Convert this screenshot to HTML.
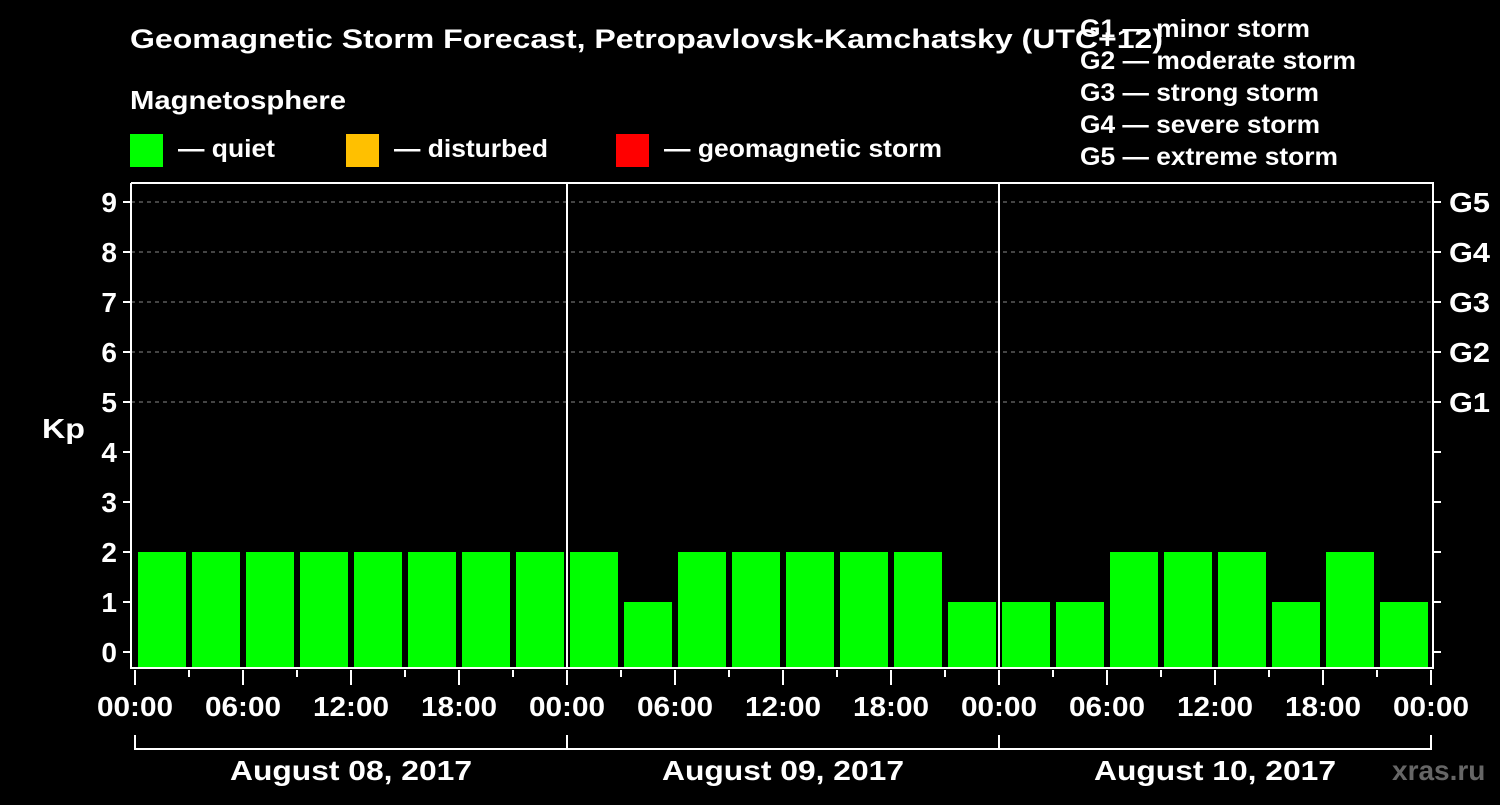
<!DOCTYPE html>
<html><head><meta charset="utf-8"><style>
html,body{margin:0;padding:0;background:#000;}
svg text{font-family:"Liberation Sans",Arial,sans-serif;font-weight:bold;fill:#fff;}
</style></head><body>
<svg id="c" width="1500" height="800" viewBox="0 0 1500 800" xmlns="http://www.w3.org/2000/svg">
<rect width="1500" height="800" fill="#000"/>
<text x="130" y="48" font-size="27" textLength="1033" lengthAdjust="spacingAndGlyphs">Geomagnetic Storm Forecast, Petropavlovsk-Kamchatsky (UTC+12)</text>
<text x="130" y="109" font-size="26" textLength="216" lengthAdjust="spacingAndGlyphs">Magnetosphere</text>
<g><rect x="130" y="134" width="33" height="33" fill="#00ff00"/><text x="178" y="157" font-size="25" textLength="97" lengthAdjust="spacingAndGlyphs">— quiet</text></g>
<g><rect x="346" y="134" width="33" height="33" fill="#ffc000"/><text x="394" y="157" font-size="25" textLength="154" lengthAdjust="spacingAndGlyphs">— disturbed</text></g>
<g><rect x="616" y="134" width="33" height="33" fill="#ff0000"/><text x="664" y="157" font-size="25" textLength="278" lengthAdjust="spacingAndGlyphs">— geomagnetic storm</text></g>
<g font-size="25">
<text x="1080" y="37" textLength="230" lengthAdjust="spacingAndGlyphs">G1 — minor storm</text>
<text x="1080" y="69" textLength="276" lengthAdjust="spacingAndGlyphs">G2 — moderate storm</text>
<text x="1080" y="101" textLength="239" lengthAdjust="spacingAndGlyphs">G3 — strong storm</text>
<text x="1080" y="133" textLength="240" lengthAdjust="spacingAndGlyphs">G4 — severe storm</text>
<text x="1080" y="165" textLength="258" lengthAdjust="spacingAndGlyphs">G5 — extreme storm</text>
</g>
<text x="42" y="438" font-size="28" textLength="43" lengthAdjust="spacingAndGlyphs">Kp</text>
<g id="grid"></g><g id="bars"></g><g id="axes"></g>
<text x="1392" y="780" font-size="28" style="fill:#666">xras.ru</text>
</svg>
<script>
const values = [2,2,2,2,2,2,2,2, 2,1,2,2,2,2,2,1, 1,1,2,2,2,1,2,1];
const dayLabels = ["August 08, 2017","August 09, 2017","August 10, 2017"];
const timeLabels = ["00:00","06:00","12:00","18:00"];
const yTicks = [0,1,2,3,4,5,6,7,8,9];
const gLabels = ["G1","G2","G3","G4","G5"];
const NS="http://www.w3.org/2000/svg";
const X0=135, SLOT=54, L=131, R=1433, T=183, B=668;
const xs = i => X0 + i*SLOT;
const ys = v => 652 - v*50;
function mk(tag, attrs, parent){const e=document.createElementNS(NS,tag);for(const k in attrs)e.setAttribute(k,attrs[k]);parent.appendChild(e);return e;}
const grid=document.getElementById('grid'), bars=document.getElementById('bars'), axes=document.getElementById('axes');
[5,6,7,8,9].forEach(v=>{
  const l=mk('line',{x1:L,x2:R,y1:ys(v),y2:ys(v),stroke:'#888','stroke-dasharray':'4,4','stroke-width':1},grid);
  
  
});
values.forEach((v,i)=>{
  const col = v>=5?'#ff0000':(v>=4?'#ffc000':'#00ff00');
  const r=mk('rect',{x:xs(i)+3,y:ys(v),width:48,height:B-ys(v),fill:col},bars);
  
  
});
const frame=mk('path',{d:`M${L},${T}V${B}H${R}V${T}H${L}`,fill:'none',stroke:'#fff','stroke-width':2},axes);


[1,2].forEach(d=>{const l=mk('line',{x1:xs(d*8),x2:xs(d*8),y1:T,y2:B,stroke:'#fff','stroke-width':2},axes);
  
  });
yTicks.forEach(v=>{
  mk('line',{x1:L-8,x2:L,y1:ys(v),y2:ys(v),stroke:'#fff','stroke-width':2},axes);
  mk('line',{x1:R,x2:R+8,y1:ys(v),y2:ys(v),stroke:'#fff','stroke-width':2},axes);
  const t=mk('text',{x:L-14,y:ys(v)+10,'font-size':28,'text-anchor':'end'},axes);t.textContent=v;
  
  
});
gLabels.forEach((g,i)=>{const t=mk('text',{x:1449,y:ys(i+5)+10,'font-size':28,textLength:41,lengthAdjust:'spacingAndGlyphs'},axes);t.textContent=g;
  
  });
for(let i=0;i<=24;i++){
  const major=i%2===0;
  mk('line',{x1:xs(i),x2:xs(i),y1:B+2,y2:B+(major?17:9),stroke:'#fff','stroke-width':2},axes);
  if(major){const t=mk('text',{x:xs(i),y:716,'font-size':28,'text-anchor':'middle',textLength:76,lengthAdjust:'spacingAndGlyphs'},axes);t.textContent=timeLabels[(i/2)%4];
    
    }
}
dayLabels.forEach((d,k)=>{
  const a=xs(k*8), b=xs(k*8+8);
  mk('path',{d:`M${a},735V749H${b}V735`,fill:'none',stroke:'#fff','stroke-width':2},axes);
  const t=mk('text',{x:(a+b)/2,y:780,'font-size':28,'text-anchor':'middle',textLength:242,lengthAdjust:'spacingAndGlyphs'},axes);t.textContent=d;
  
  
});
</script>
</body></html>
